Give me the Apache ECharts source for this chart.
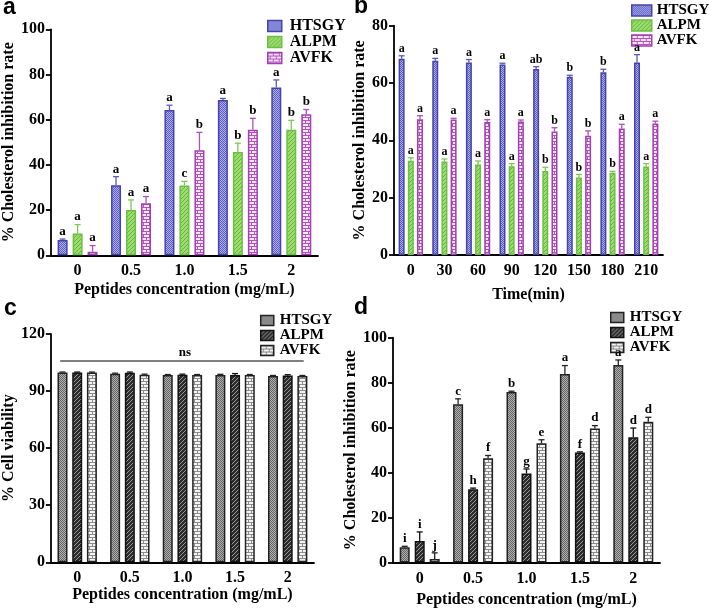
<!DOCTYPE html>
<html><head><meta charset="utf-8">
<script src="https://cdn.jsdelivr.net/npm/echarts@6/dist/echarts.min.js"></script>
<style>html,body{margin:0;padding:0;background:#fff}#c{width:709px;height:615px}</style>
</head><body><div id="c"></div>
<script>
// ---------- DATA ----------
const catsConc = ['0', '0.5', '1.0', '1.5', '2'];
const catsTime = ['0', '30', '60', '90', '120', '150', '180', '210'];
const seriesNames = ['HTSGY', 'ALPM', 'AVFK'];

// Panel a
const a_HTSGY = [6.8, 31.0, 64.3, 68.7, 74.3];
const a_HTSGY_err = [0.4, 3.8, 2.1, 0.7, 3.3];
const a_HTSGY_sig = ['a', 'a', 'a', 'a', 'a'];
const a_ALPM = [9.6, 20.0, 30.9, 45.7, 55.6];
const a_ALPM_err = [4.0, 4.5, 1.8, 3.9, 4.1];
const a_ALPM_sig = ['a', 'a', 'c', 'b', 'b'];
const a_AVFK = [1.6, 23.0, 46.5, 55.5, 62.4];
const a_AVFK_err = [2.7, 3.0, 7.9, 5.1, 2.1];
const a_AVFK_sig = ['a', 'a', 'b', 'b', 'b'];

// Panel b
const b_HTSGY = [68.5, 67.8, 67.2, 66.5, 64.9, 62.2, 63.8, 67.2];
const b_HTSGY_err = [1.0, 0.8, 1.0, 0.4, 0.8, 0.5, 1.0, 2.7];
const b_HTSGY_sig = ['a', 'a', 'a', 'a', 'ab', 'b', 'b', 'a'];
const b_ALPM = [32.9, 32.6, 31.6, 31.0, 29.3, 27.0, 28.7, 30.9];
const b_ALPM_err = [1.0, 0.9, 1.2, 0.9, 1.3, 1.1, 0.5, 1.0];
const b_ALPM_sig = ['a', 'a', 'a', 'a', 'b', 'b', 'b', 'a'];
const b_AVFK = [47.4, 47.3, 46.4, 46.6, 43.1, 41.6, 44.1, 45.9];
const b_AVFK_err = [1.2, 0.4, 0.8, 0.5, 1.3, 1.7, 1.5, 0.8];
const b_AVFK_sig = ['a', 'a', 'a', 'a', 'b', 'b', 'a', 'a'];

// Panel c
const c_HTSGY = [99.8, 99.1, 98.4, 98.4, 97.9];
const c_HTSGY_err = [0.2, 0.3, 0.3, 0.4, 0.3];
const c_ALPM = [99.8, 99.6, 98.6, 98.4, 98.2];
const c_ALPM_err = [0.2, 0.4, 0.3, 0.8, 0.4];
const c_AVFK = [99.8, 98.6, 98.4, 98.4, 97.9];
const c_AVFK_err = [0.2, 0.3, 0.3, 0.3, 0.3];
const c_ns_level = 105.8;
const c_ns_text = 'ns';

// Panel d
const d_HTSGY = [6.8, 70.4, 75.9, 83.8, 87.9];
const d_HTSGY_err = [0.4, 2.4, 0.3, 3.8, 2.2];
const d_HTSGY_sig = ['i', 'c', 'b', 'a', 'a'];
const d_ALPM = [9.6, 32.6, 39.6, 48.9, 55.7];
const d_ALPM_err = [4.0, 0.5, 2.0, 0.3, 4.1];
const d_ALPM_sig = ['i', 'h', 'g', 'f', 'd'];
const d_AVFK = [1.6, 46.4, 53.0, 59.6, 62.6];
const d_AVFK_err = [2.7, 1.2, 1.6, 1.3, 2.0];
const d_AVFK_sig = ['j', 'f', 'e', 'd', 'd'];

// ---------- STYLE ----------
const F = '"Liberation Serif","Times New Roman",serif';
function pattern(w, h, fn) {
  const cv = document.createElement('canvas'); cv.width = w; cv.height = h;
  const g = cv.getContext('2d'); fn(g, w, h);
  return { image: cv, repeat: 'repeat' };
}
function checker(a, b) {
  return pattern(2, 2, (g) => { g.fillStyle = a; g.fillRect(0, 0, 2, 2); g.fillStyle = b; g.fillRect(0, 0, 1, 1); g.fillRect(1, 1, 1, 1); });
}
function diag(bg, fg) {
  return pattern(4, 4, (g) => { g.fillStyle = bg; g.fillRect(0, 0, 4, 4); g.fillStyle = fg; for (let i = 0; i < 4; i++) g.fillRect(i, 3 - i, 1, 1); });
}
function brick(mortar, br) {
  return pattern(6, 6, (g) => {
    g.fillStyle = mortar; g.fillRect(0, 0, 6, 6); g.fillStyle = br;
    g.fillRect(0, 1, 5, 2); g.fillRect(3, 4, 3, 2); g.fillRect(0, 4, 2, 2);
  });
}
const colStyles = [
  { color: checker('#aeaeea', '#5c5cc4'), border: '#4444a6', err: '#5a5abc' },
  { color: diag('#9edc70', '#5fb836'), border: '#6cbf44', err: '#7cc850' },
  { color: brick('#b850c4', '#fae8fb'), border: '#a040b0', err: '#b050c0' }
];
const grayStyles = [
  { color: checker('#b0b0b0', '#646464'), border: '#222', err: '#222' },
  { color: diag('#2c2c2c', '#9a9a9a'), border: '#111', err: '#111' },
  { color: brick('#8c8c8c', '#f4f4f4'), border: '#222', err: '#222' }
];

const panels = [
  { key: 'a', cats: catsConc, vals: [a_HTSGY, a_ALPM, a_AVFK], errs: [a_HTSGY_err, a_ALPM_err, a_AVFK_err], sigs: [a_HTSGY_sig, a_ALPM_sig, a_AVFK_sig],
    grid: { left: 50, top: 29.3, width: 268, height: 226 }, y: { max: 100, interval: 20, name: '% Cholesterol inhibition rate', gap: 27 },
    x: { name: 'Peptides concentration (mg/mL)', gap: 27 }, bw: 10, gapPct: 0.5, styles: colStyles, sigSize: 13,
    legend: { left: 267, top: 18, w: 14, h: 11, lh: 15, fs: 16, pad: 3 } },
  { key: 'b', cats: catsTime, vals: [b_HTSGY, b_ALPM, b_AVFK], errs: [b_HTSGY_err, b_ALPM_err, b_AVFK_err], sigs: [b_HTSGY_sig, b_ALPM_sig, b_AVFK_sig],
    grid: { left: 394, top: 25.7, width: 269, height: 229.3 }, y: { max: 80, interval: 20, name: '% Cholesterol inhibition rate', gap: 26 },
    x: { name: 'Time(min)', gap: 32 }, bw: 6, gapPct: 0.53, styles: colStyles, sigSize: 12,
    legend: { left: 631, top: 3, w: 20, h: 11, lh: 14.5, fs: 15, pad: 0 } },
  { key: 'c', cats: catsConc, vals: [c_HTSGY, c_ALPM, c_AVFK], errs: [c_HTSGY_err, c_ALPM_err, c_AVFK_err], sigs: null,
    grid: { left: 44, top: 334, width: 270, height: 228.3 }, y: { max: 120, interval: 30, name: '% Cell viability', gap: 25 },
    x: { name: 'Peptides concentration (mg/mL)', gap: 24 }, bw: 10, gapPct: 0.47, styles: grayStyles, sigSize: 12,
    legend: { left: 260, top: 313, w: 13, h: 10, lh: 14, fs: 15, pad: 1 } },
  { key: 'd', cats: catsConc, vals: [d_HTSGY, d_ALPM, d_AVFK], errs: [d_HTSGY_err, d_ALPM_err, d_AVFK_err], sigs: [d_HTSGY_sig, d_ALPM_sig, d_AVFK_sig],
    grid: { left: 393, top: 337.7, width: 267, height: 224.8 }, y: { max: 100, interval: 20, name: '% Cholesterol inhibition rate', gap: 24 },
    x: { name: 'Peptides concentration (mg/mL)', gap: 29 }, bw: 10, gapPct: 0.5, styles: grayStyles, sigSize: 13,
    legend: { left: 610, top: 310, w: 13, h: 10, lh: 14.3, fs: 15, pad: 1 } }
];

const option = { animation: false, backgroundColor: '#fff', grid: [], xAxis: [], yAxis: [], series: [], legend: [], title: [] };
const axisLineStyle = { color: '#000', width: 1.8 };
const labelTitles = [ ['a', 3, -4], ['b', 354, -5], ['c', 4, 297], ['d', 354, 296] ];
labelTitles.forEach(([t, l, tp]) => option.title.push({ text: t, left: l, top: tp, padding: 0,
  textStyle: { fontFamily: '"Liberation Sans",Arial,sans-serif', fontWeight: 'bold', fontSize: 23, color: '#000' } }));

panels.forEach((p, gi) => {
  option.grid.push(p.grid);
  option.xAxis.push({ type: 'category', gridIndex: gi, data: p.cats, name: p.x.name, nameLocation: 'middle', nameGap: p.x.gap,
    nameTextStyle: { fontFamily: F, fontWeight: 'bold', fontSize: 16, color: '#000' },
    axisLine: { lineStyle: axisLineStyle }, axisTick: { alignWithLabel: true, length: 5, lineStyle: axisLineStyle },
    axisLabel: { fontFamily: F, fontWeight: 'bold', fontSize: 16, color: '#000', margin: 8 } });
  option.yAxis.push({ type: 'value', gridIndex: gi, min: 0, max: p.y.max, interval: p.y.interval, name: p.y.name,
    nameLocation: 'middle', nameGap: p.y.gap, nameTextStyle: { fontFamily: F, fontWeight: 'bold', fontSize: 16, color: '#000' },
    axisLine: { show: true, lineStyle: axisLineStyle }, axisTick: { show: true, length: 5, lineStyle: axisLineStyle },
    splitLine: { show: false }, axisLabel: { fontFamily: F, fontWeight: 'bold', fontSize: 16, color: '#000', margin: 6 } });
  const step = p.bw * (1 + p.gapPct);
  const legendData = [];
  seriesNames.forEach((nm, k) => {
    const st = p.styles[k];
    const sname = p.key + '|' + nm;
    legendData.push(sname);
    option.series.push({ type: 'bar', name: sname, xAxisIndex: gi, yAxisIndex: gi, data: p.vals[k],
      barWidth: p.bw, barGap: (p.gapPct * 100) + '%',
      itemStyle: { color: st.color, borderColor: st.border, borderWidth: 1.5 } });
    const errs = p.errs[k], sigs = p.sigs ? p.sigs[k] : null, off = (k - 1) * step, ec = st.err, fs = p.sigSize;
    option.series.push({ type: 'custom', xAxisIndex: gi, yAxisIndex: gi, z: 5,
      data: p.vals[k].map((v, i) => [i, v, errs[i]]),
      renderItem: function (params, api) {
        const i = api.value(0), v = api.value(1), e = api.value(2);
        const p0 = api.coord([i, v]), p1 = api.coord([i, v + e]);
        const cx = p0[0] + off;
        const ch = [
          { type: 'line', shape: { x1: cx, y1: p0[1], x2: cx, y2: p1[1] }, style: { stroke: ec, lineWidth: 1.3 } },
          { type: 'line', shape: { x1: cx - 3, y1: p1[1], x2: cx + 3, y2: p1[1] }, style: { stroke: ec, lineWidth: 1.3 } }
        ];
        if (sigs) ch.push({ type: 'text', style: { text: sigs[params.dataIndex], x: cx, y: p1[1] - 1, align: 'center', verticalAlign: 'bottom',
          font: 'bold ' + fs + 'px ' + F, fill: '#000' } });
        return { type: 'group', children: ch };
      } });
  });
  option.legend.push({ orient: 'vertical', left: p.legend.left, top: p.legend.top, padding: 0, itemGap: 0,
    itemWidth: p.legend.w, itemHeight: p.legend.h, icon: 'rect', selectedMode: false, data: legendData,
    formatter: (n) => n.split('|')[1],
    itemStyle: { borderWidth: 1.5 },
    textStyle: { fontFamily: F, fontWeight: 'bold', fontSize: p.legend.fs, color: '#000', lineHeight: p.legend.lh, padding: [0, 0, 0, p.legend.pad] } });
});

// "ns" annotation on panel c
option.series.push({ type: 'custom', xAxisIndex: 2, yAxisIndex: 2, z: 5, data: [[0, catsConc.length - 1, c_ns_level]],
  renderItem: function (params, api) {
    const p0 = api.coord([api.value(0), api.value(2)]), p1 = api.coord([api.value(1), api.value(2)]);
    const x1 = p0[0] - 17, x2 = p1[0] + 16;
    return { type: 'group', children: [
      { type: 'line', shape: { x1: x1, y1: p0[1], x2: x2, y2: p0[1] }, style: { stroke: '#555', lineWidth: 1.5 } },
      { type: 'text', style: { text: c_ns_text, x: (x1 + x2) / 2 + 3, y: p0[1] - 2, align: 'center', verticalAlign: 'bottom',
        font: 'bold 13px ' + F, fill: '#000' } }
    ] };
  } });

const chart = echarts.init(document.getElementById('c'), null, { renderer: 'canvas' });
chart.setOption(option);
</script></body></html>
